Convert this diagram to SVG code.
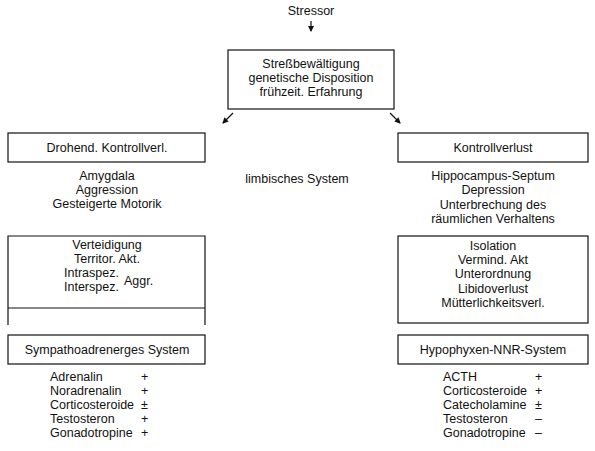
<svg xmlns="http://www.w3.org/2000/svg" width="595" height="451" viewBox="0 0 595 451">
<defs>
<marker id="ah" markerWidth="6" markerHeight="6" refX="5" refY="3" orient="auto" markerUnits="userSpaceOnUse"><path d="M0,0 L6,3 L0,6 z" fill="#111"/></marker>
<style>
text{font-family:"Liberation Sans",Arial,sans-serif;font-size:12.5px;fill:#111}
.c{text-anchor:middle}
.box{fill:none;stroke:#111;stroke-width:1.2}
.ln{stroke:#111;stroke-width:1.2;fill:none}
</style>
</defs>
<rect width="595" height="451" fill="#fff"/>
<g id="connectors">
<line class="ln" x1="311" y1="21" x2="311" y2="31" marker-end="url(#ah)" stroke-width="0.8"/>
<line class="ln" x1="233" y1="113" x2="223" y2="123" marker-end="url(#ah)"/>
<line class="ln" x1="390" y1="113" x2="400" y2="123" marker-end="url(#ah)"/>
</g>
<g id="stressor"><text class="c" x="311" y="15">Stressor</text></g>
<g id="center">
<rect class="box" x="228" y="50" width="166" height="59"/>
<text class="c" x="311" y="68">Streßbewältigung</text>
<text class="c" x="311" y="82">genetische Disposition</text>
<text class="c" x="311" y="96">frühzeit. Erfahrung</text>
</g>
<g id="drohend">
<rect class="box" x="8" y="133" width="197" height="29"/>
<text class="c" x="107" y="152">Drohend. Kontrollverl.</text>
</g>
<g id="left-text">
<text class="c" x="107" y="180">Amygdala</text>
<text class="c" x="107" y="194">Aggression</text>
<text class="c" x="107" y="208">Gesteigerte Motorik</text>
</g>
<g id="limbisch"><text class="c" x="297" y="183">limbisches System</text></g>
<g id="kontrollverlust">
<rect class="box" x="398" y="133" width="190" height="29"/>
<text class="c" x="493" y="152">Kontrollverlust</text>
</g>
<g id="right-text">
<text class="c" x="493" y="180">Hippocampus-Septum</text>
<text class="c" x="493" y="194">Depression</text>
<text class="c" x="493" y="209">Unterbrechung des</text>
<text class="c" x="493" y="223">räumlichen Verhaltens</text>
</g>
<g id="verteidigung">
<path class="ln" d="M8,325 V236 H205 V325 M8,308 H205"/>
<text class="c" x="107" y="249">Verteidigung</text>
<text class="c" x="107" y="263">Territor. Akt.</text>
<text x="64" y="277">Intraspez.</text>
<text x="64" y="291">Interspez.</text>
<text x="124" y="285">Aggr.</text>
</g>
<g id="isolation">
<rect class="box" x="398" y="236" width="190" height="87"/>
<text class="c" x="493" y="250">Isolation</text>
<text class="c" x="493" y="264">Vermind. Akt</text>
<text class="c" x="493" y="278">Unterordnung</text>
<text class="c" x="493" y="293">Libidoverlust</text>
<text class="c" x="493" y="307">Mütterlichkeitsverl.</text>
</g>
<g id="sympatho">
<rect class="box" x="8" y="335" width="197" height="29"/>
<text class="c" x="107" y="354">Sympathoadrenerges System</text>
</g>
<g id="left-list">
<text x="50" y="381">Adrenalin</text><text x="141" y="381">+</text>
<text x="50" y="395">Noradrenalin</text><text x="141" y="395">+</text>
<text x="50" y="409">Corticosteroide</text><text x="141" y="409">±</text>
<text x="50" y="423">Testosteron</text><text x="141" y="423">+</text>
<text x="50" y="437">Gonadotropine</text><text x="141" y="437">+</text>
</g>
<g id="hypophyxen">
<rect class="box" x="398" y="335" width="190" height="29"/>
<text class="c" x="493" y="354">Hypophyxen-NNR-System</text>
</g>
<g id="right-list">
<text x="443" y="381">ACTH</text><text x="535" y="381">+</text>
<text x="443" y="395">Corticosteroide</text><text x="535" y="395">+</text>
<text x="443" y="409">Catecholamine</text><text x="535" y="409">±</text>
<text x="443" y="423">Testosteron</text><text x="535" y="423">–</text>
<text x="443" y="437">Gonadotropine</text><text x="535" y="437">–</text>
</g>
</svg>
